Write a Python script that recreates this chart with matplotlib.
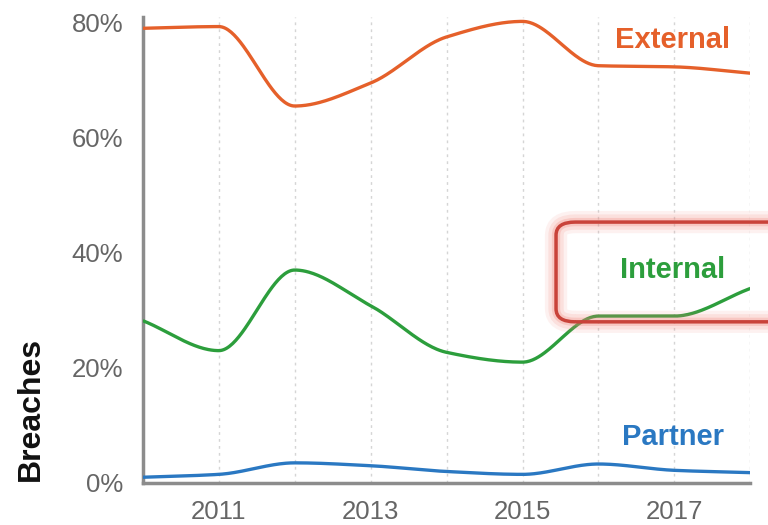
import numpy as np
import matplotlib.pyplot as plt
from matplotlib.patches import FancyBboxPatch

years = [2010, 2011, 2012, 2013, 2014, 2015, 2016, 2017, 2018]
external = [79, 79.3, 65.5, 69.5, 77.5, 80.2, 72.5, 72.3, 71.2]
internal = [28.2, 23, 37, 30.8, 22.7, 21, 29, 29, 33.8]
partner = [1, 1.5, 3.5, 3, 2, 1.5, 3.3, 2.2, 1.8]

tick_years = [2011, 2013, 2015, 2017]
tick_pct = [0, 20, 40, 60, 80]


def smooth(x, y, n=400):
    # monotone cubic hermite, just for drawing the curve
    x = np.asarray(x, float)
    y = np.asarray(y, float)
    h = np.diff(x)
    d = np.diff(y) / h
    m = np.zeros_like(y)
    m[0], m[-1] = d[0], d[-1]
    for i in range(1, len(y) - 1):
        if d[i - 1] * d[i] > 0:
            m[i] = 2 / (1 / d[i - 1] + 1 / d[i])
    xs = np.linspace(x[0], x[-1], n)
    k = np.clip(np.searchsorted(x, xs) - 1, 0, len(x) - 2)
    t = (xs - x[k]) / h[k]
    h00 = 2 * t**3 - 3 * t**2 + 1
    h10 = t**3 - 2 * t**2 + t
    h01 = -2 * t**3 + 3 * t**2
    h11 = t**3 - t**2
    ys = h00 * y[k] + h10 * h[k] * m[k] + h01 * y[k + 1] + h11 * h[k] * m[k + 1]
    return xs, ys


fig = plt.figure(figsize=(7.68, 5.25), dpi=100)
ax = fig.add_axes([0.186, 0.08, 0.791, 0.888])

for yr in years[1:]:
    ax.axvline(yr, color="#d5d5d5", lw=1, ls=(0, (2, 3)), zorder=0)

series = [
    (external, "#e5602a", "External", 77.0),
    (internal, "#2c9e3c", "Internal", 37.0),
    (partner, "#2a78c2", "Partner", 8.0),
]
for vals, col, name, ylab in series:
    xs, ys = smooth(years, vals)
    ax.plot(xs, ys, color=col, lw=2.4, solid_capstyle="butt", zorder=3)
    ax.text(2016.98, ylab, name, color=col, fontsize=21, fontweight="bold",
            ha="center", va="center", family="Liberation Sans")

# highlight box round the Internal label
box = (0.724, 0.387)
bw, bh = 0.31, 0.19
for lw, a in [(16, 0.10), (11, 0.15), (6, 0.25)]:
    fig.patches.append(FancyBboxPatch(box, bw, bh,
                                      boxstyle="round,pad=0,rounding_size=0.025",
                                      transform=fig.transFigure, fill=False,
                                      ec="#f07f74", lw=lw, alpha=a, clip_on=False))
fig.patches.append(FancyBboxPatch(box, bw, bh,
                                  boxstyle="round,pad=0,rounding_size=0.025",
                                  transform=fig.transFigure, fill=False,
                                  ec="#c9433a", lw=2.5, clip_on=False))

ax.set_xlim(2010, 2018)
ax.set_ylim(0, 81)
ax.set_xticks(tick_years)
ax.set_xticklabels([str(y) for y in tick_years])
ax.set_yticks(tick_pct)
ax.set_yticklabels([f"{p}%" for p in tick_pct])
ax.tick_params(length=0, labelsize=18.5, colors="#666666")
ax.tick_params(axis="y", pad=14)
ax.tick_params(axis="x", pad=12)
for lab in ax.get_xticklabels() + ax.get_yticklabels():
    lab.set_family("Liberation Sans")

for s in ["top", "right"]:
    ax.spines[s].set_visible(False)
for s in ["left", "bottom"]:
    ax.spines[s].set_color("#8c8c8c")
    ax.spines[s].set_linewidth(2.5)

fig.text(0.04, 0.221, "Breaches", rotation=90, fontsize=23, fontweight="bold",
         ha="center", va="center", family="Liberation Sans", color="#111111")

fig.savefig("out.png", dpi=100)
